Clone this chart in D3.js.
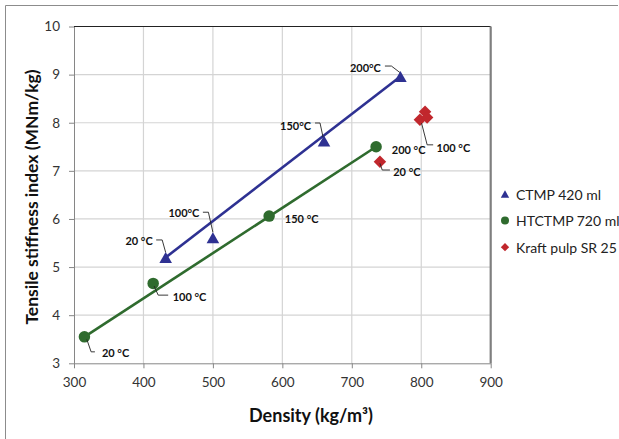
<!DOCTYPE html>
<html>
<head>
<meta charset="utf-8">
<script src="https://cdn.jsdelivr.net/npm/d3@7"></script>
<style>
  html, body { margin: 0; padding: 0; background: #fff; }
  svg { display: block; font-family: Lato, "Open Sans", sans-serif; }
</style>
</head>
<body>
<div id="chart"></div>
<script>
// Data
const xTicks = [300, 400, 500, 600, 700, 800, 900];
const yTicks = [3, 4, 5, 6, 7, 8, 9, 10];

const seriesNames = ['CTMP 420 ml', 'HTCTMP 720 ml', 'Kraft pulp SR 25'];

const ctmpDensity = [432, 500, 660, 770];
const ctmpStiffness = [5.2, 5.61, 7.62, 8.96];
const ctmpLabels = ['20 °C', '100°C', '150°C', '200°C'];

const htctmpDensity = [315, 414, 581, 735];
const htctmpStiffness = [3.55, 4.66, 6.06, 7.5];
const htctmpLabels = ['20 °C', '100 °C', '150 °C', '200 °C'];

const kraftDensity = [740.5, 798, 805.5, 808.5];
const kraftStiffness = [7.19, 8.06, 8.23, 8.11];
const kraftLabels = ['20 °C', '100 °C', '', ''];

const colors = ['#2E3192', '#2F6B2E', '#C1272D'];

// label placement (pixel offsets from the marker), leader polyline + text anchor
const labelLayout = {
  0: [
    { dx: -13, dy: -17, anchor: 'end', leader: [[-9.5, -17.5], [-3.5, -17.5], [0, -5]] },
    { dx: -13.5, dy: -25, anchor: 'end', leader: [[-10, -25.5], [-4.5, -25.5], [0, -5.5]] },
    { dx: -13, dy: -16, anchor: 'end', leader: [[-9, -18], [-4, -18], [-1, -4]] },
    { dx: -19.5, dy: -9, anchor: 'end', leader: [[-15.5, -10.5], [-9, -10.5], [-0.5, -4]] }
  ],
  1: [
    { dx: 17.5, dy: 16, anchor: 'start', leader: [[2.4, 2.6], [6.7, 15], [10.5, 15]] },
    { dx: 19.5, dy: 13.4, anchor: 'start', leader: [[1, 2.7], [5, 11.7], [15, 11.7]] },
    { dx: 15.7, dy: 2.3, anchor: 'start', leader: null },
    { dx: 15.7, dy: 2.6, anchor: 'start', leader: null }
  ],
  2: [
    { dx: 13.3, dy: 10, anchor: 'start', leader: [[0, 1.6], [2.3, 8.3], [10, 8.3]] },
    { dx: 16.7, dy: 27.3, anchor: 'start', leader: [[1.7, 3.3], [7.3, 25], [13.3, 25]] }
  ]
};

const W = 619, H = 439;
const svg = d3.select('#chart').append('svg')
  .attr('width', W).attr('height', H);

// outer chart border
svg.append('path')
  .attr('d', 'M5.5,' + H + ' L5.5,5.5 L618,5.5')
  .attr('fill', 'none').attr('stroke', '#8c8c8c').attr('stroke-width', 1);

const x = d3.scaleLinear().domain([300, 900]).range([74, 490.7]);
const y = d3.scaleLinear().domain([3, 10]).range([363.3, 26.5]);

// gridlines
svg.append('g').selectAll('line.vg')
  .data(xTicks.slice(1, -1)).join('line')
  .attr('x1', d => x(d)).attr('x2', d => x(d))
  .attr('y1', y(3)).attr('y2', y(10))
  .attr('stroke', '#d4d4d4').attr('stroke-width', 1.2);
svg.append('g').selectAll('line.hg')
  .data(yTicks.slice(1, -1)).join('line')
  .attr('x1', x(300)).attr('x2', x(900))
  .attr('y1', d => y(d)).attr('y2', d => y(d))
  .attr('stroke', '#d4d4d4').attr('stroke-width', 1.2);

// top + right frame
svg.append('line')
  .attr('x1', x(300)).attr('x2', x(900)).attr('y1', y(10)).attr('y2', y(10))
  .attr('stroke', '#222').attr('stroke-width', 1);
svg.append('line')
  .attr('x1', x(900)).attr('x2', x(900)).attr('y1', y(10)).attr('y2', y(3))
  .attr('stroke', '#7f7f7f').attr('stroke-width', 2.2);

// axes
const xAxis = svg.append('g')
  .attr('transform', `translate(0,${y(3)})`)
  .call(d3.axisBottom(x).tickValues(xTicks).tickFormat(d3.format('d'))
    .tickSize(5).tickPadding(9).tickSizeOuter(0));
const yAxis = svg.append('g')
  .attr('transform', `translate(${x(300)},0)`)
  .call(d3.axisLeft(y).tickValues(yTicks).tickFormat(d3.format('d'))
    .tickSize(5).tickPadding(9).tickSizeOuter(0));
[xAxis, yAxis].forEach(a => {
  a.selectAll('.domain, .tick line').attr('stroke', '#868686');
  a.selectAll('text').attr('fill', '#333').attr('font-size', '13.5px')
    .attr('font-family', 'Lato, sans-serif');
});

// axis titles
svg.append('text')
  .attr('x', 311).attr('y', 415)
  .attr('text-anchor', 'middle').attr('dominant-baseline', 'central')
  .attr('font-size', '18px').attr('font-weight', 700).attr('fill', '#111')
  .text('Density (kg/m³)');
svg.append('text')
  .attr('transform', 'translate(31,197) rotate(-90)')
  .attr('text-anchor', 'middle').attr('dominant-baseline', 'central')
  .attr('font-size', '17.5px').attr('font-weight', 700).attr('fill', '#111')
  .text('Tensile stiffness index (MNm/kg)');

const series = [
  { xs: ctmpDensity, ys: ctmpStiffness, labels: ctmpLabels, shape: 'triangle', trend: true },
  { xs: htctmpDensity, ys: htctmpStiffness, labels: htctmpLabels, shape: 'circle', trend: true },
  { xs: kraftDensity, ys: kraftStiffness, labels: kraftLabels, shape: 'diamond', trend: false }
];

function markerPath(shape, s) {
  if (shape === 'triangle') {
    const w = s * 1.05, h = s * 0.91;
    return `M0,${-h / 2}L${w / 2},${h / 2}L${-w / 2},${h / 2}Z`;
  }
  if (shape === 'diamond') {
    const r = s * 0.52;
    return `M0,${-r}L${r},0L0,${r}L${-r},0Z`;
  }
  const r = s / 2;
  return `M${r},0A${r},${r} 0 1,1 ${-r},0A${r},${r} 0 1,1 ${r},0Z`;
}

// trend lines (first to last point)
series.forEach((s, i) => {
  if (!s.trend) return;
  const n = s.xs.length - 1;
  svg.append('line')
    .attr('x1', x(s.xs[0])).attr('y1', y(s.ys[0]))
    .attr('x2', x(s.xs[n])).attr('y2', y(s.ys[n]))
    .attr('stroke', colors[i]).attr('stroke-width', 2.6);
});

// markers
series.forEach((s, i) => {
  svg.append('g').selectAll('path')
    .data(s.xs.map((d, j) => [d, s.ys[j]]))
    .join('path')
    .attr('transform', d => `translate(${x(d[0])},${y(d[1])})`)
    .attr('d', markerPath(s.shape, s.shape === 'circle' ? 11.5 : 12))
    .attr('fill', colors[i]);
});

// data labels with leader lines
series.forEach((s, i) => {
  (labelLayout[i] || []).forEach((L, j) => {
    if (!s.labels[j]) return;
    const px = x(s.xs[j]), py = y(s.ys[j]);
    if (L.leader) {
      svg.append('polyline')
        .attr('points', L.leader.map(p => `${px + p[0]},${py + p[1]}`).join(' '))
        .attr('fill', 'none').attr('stroke', '#222').attr('stroke-width', 0.9);
    }
    svg.append('text')
      .attr('x', px + L.dx).attr('y', py + L.dy)
      .attr('text-anchor', L.anchor).attr('dominant-baseline', 'central')
      .attr('font-size', '11px').attr('font-weight', 700).attr('fill', '#111')
      .text(s.labels[j]);
  });
});

// legend
const legend = svg.append('g').attr('transform', 'translate(505,194)');
seriesNames.forEach((name, i) => {
  const g = legend.append('g').attr('transform', `translate(0,${i * 26.6})`);
  g.append('path')
    .attr('d', markerPath(series[i].shape, 8))
    .attr('fill', colors[i]);
  g.append('text')
    .attr('x', 11).attr('y', 0)
    .attr('dominant-baseline', 'central')
    .attr('font-size', '14px').attr('fill', '#222')
    .text(name);
});
</script>
</body>
</html>
